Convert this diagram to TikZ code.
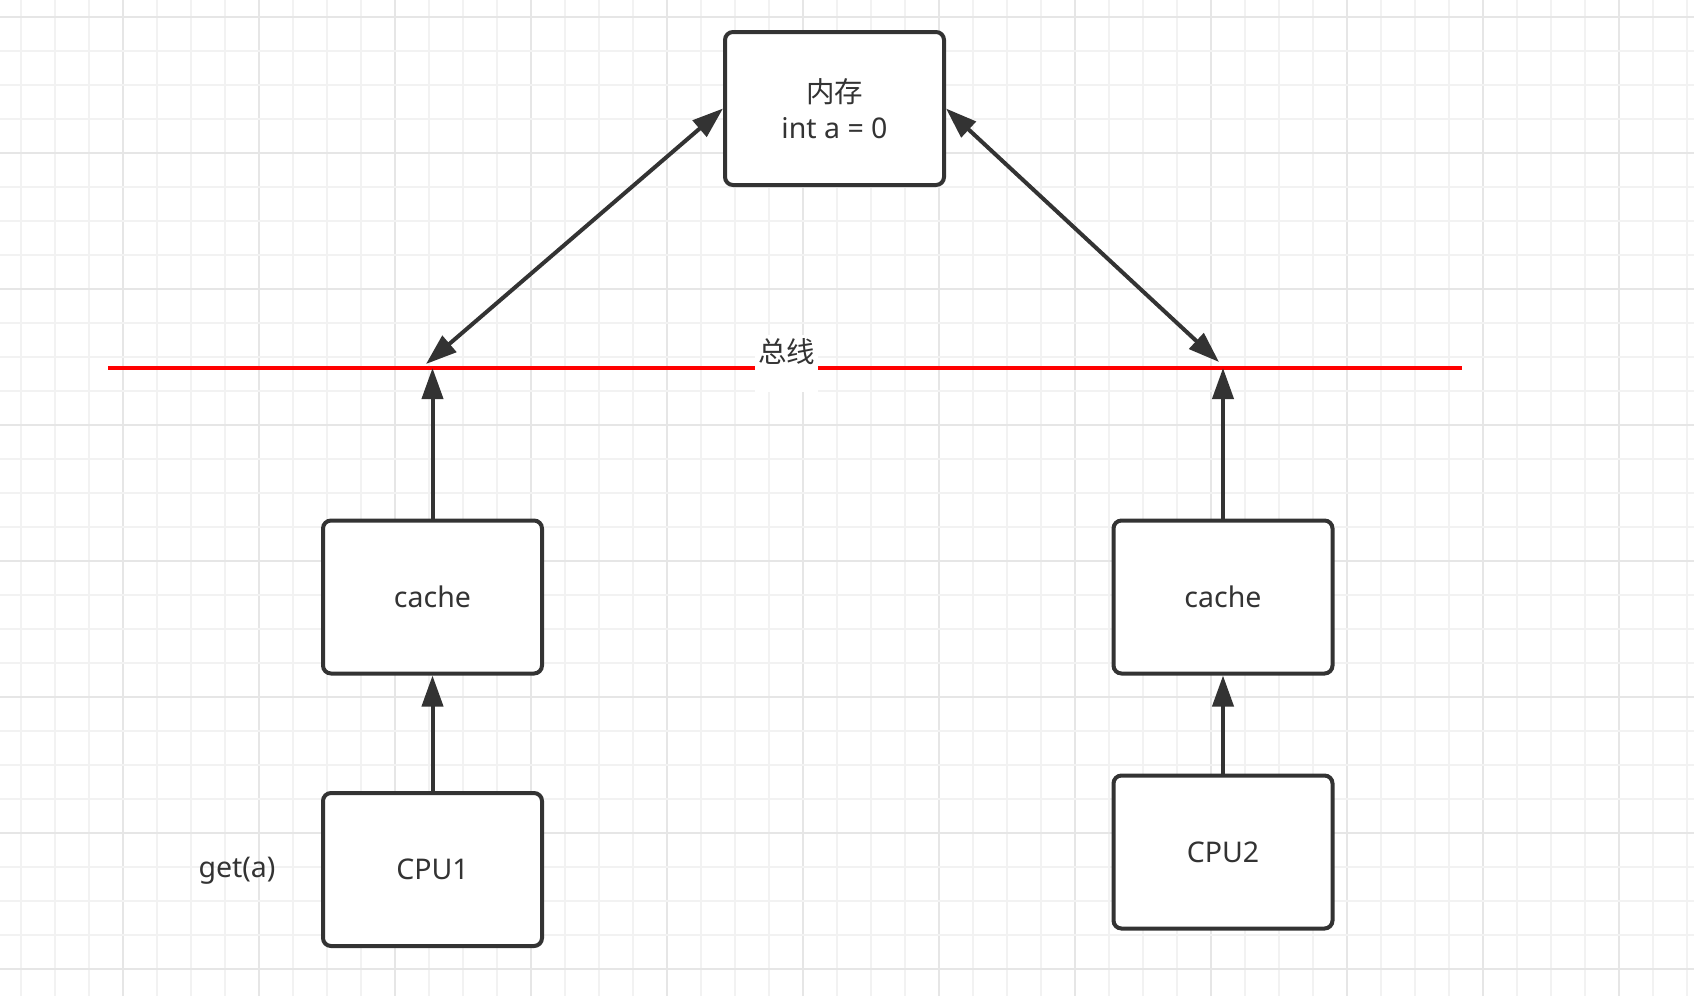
\documentclass[tikz,border=0pt]{standalone}
\usepackage{fontspec}
\setmainfont{Noto Sans}
\newfontfamily\cjk{Noto Sans CJK SC}
\usetikzlibrary{arrows.meta}
\definecolor{ink}{HTML}{333333}
\definecolor{gridminor}{HTML}{F2F2F2}
\definecolor{gridmajor}{HTML}{E6E6E6}
\definecolor{busred}{HTML}{FF0000}
\tikzset{
  box/.style={draw=ink, line width=4pt, rounded corners=8pt, fill=white,
    minimum width=219pt, minimum height=153pt, inner sep=0pt, align=center,
    text=ink, font=\fontsize{28.5}{36}\selectfont},
  lbl/.style={text=ink, inner sep=0pt, font=\fontsize{28.5}{36}\selectfont},
  arr/.style={draw=ink, line width=4pt, -{Triangle[length=31pt,width=21pt]}},
  dbl/.style={draw=ink, line width=4pt, {Triangle[length=31pt,width=21pt]}-{Triangle[length=31pt,width=21pt]}},
  minorline/.style={draw=gridminor, line width=2pt},
  majorline/.style={draw=gridmajor, line width=2pt},
}
\begin{document}
\begin{tikzpicture}[x=1pt, y=-1pt]
  \useasboundingbox (0,0) rectangle (1694,996);
  \fill[white] (0,0) rectangle (1694,996);

  % background grid: 34px cells, every fourth line darker
  \foreach \i in {0,...,49} {
    \pgfmathtruncatemacro{\m}{mod(\i+1,4)}
    \ifnum\m=0
      \draw[majorline] ({21+34*\i},0) -- ({21+34*\i},996);
    \else
      \draw[minorline] ({21+34*\i},0) -- ({21+34*\i},996);
    \fi
  }
  \foreach \j in {0,...,28} {
    \pgfmathtruncatemacro{\m}{mod(\j,4)}
    \ifnum\m=0
      \draw[majorline] (0,{17+34*\j}) -- (1694,{17+34*\j});
    \else
      \draw[minorline] (0,{17+34*\j}) -- (1694,{17+34*\j});
    \fi
  }

  % memory, caches and CPUs
  \node[box] (mem) at (834.5,108.5) {{\cjk 内存}\\int a = 0};
  \node[box] (cache1) at (432.5,597) {cache};
  \node[box] (cpu1) at (432.5,869.5) {CPU1};
  \node[box] (cache2) at (1223,597) {cache};
  \node[box] (cpu2) at (1223,852) {CPU2};
  \node[lbl] (geta) at (237,871) {get(a)};

  % the bus
  \coordinate (busW) at (108,368);
  \coordinate (busE) at (1462,368);
  \draw[busred, line width=4pt] (busW) -- (busE);
  \fill[white] (755,335) rectangle (818,392);
  \node[lbl] (bus) at (786.5,352) {\cjk 总线};

  \coordinate (busL) at (432.5,368);
  \coordinate (busR) at (1223,368);
  \coordinate (tipL) at (426,364);
  \coordinate (tipR) at (1219,362);

  % connectors
  \draw[arr] (cpu1.north) -- (cache1.south);
  \draw[arr] (cpu2.north) -- (cache2.south);
  \draw[arr] (cache1.north) -- (busL);
  \draw[arr] (cache2.north) -- (busR);
  \draw[dbl] (tipL) -- (mem.west);
  \draw[dbl] (tipR) -- (mem.east);
\end{tikzpicture}
\end{document}
